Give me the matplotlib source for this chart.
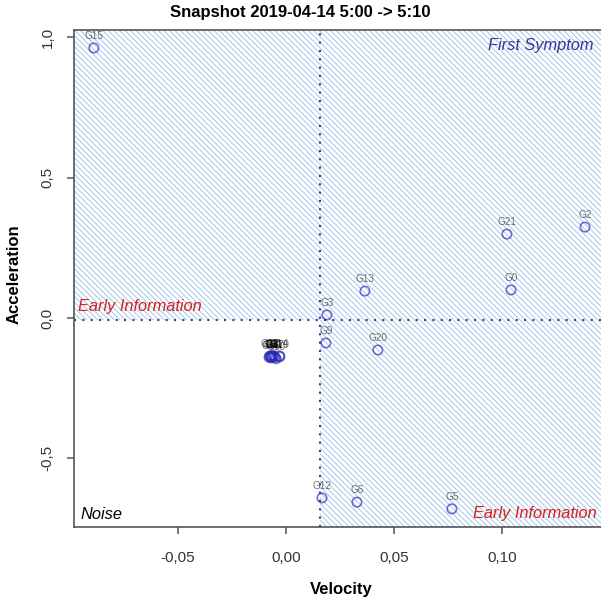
import matplotlib
matplotlib.use("Agg")
import matplotlib.pyplot as plt
from matplotlib.patches import Rectangle
from matplotlib.ticker import FuncFormatter

plt.rcParams['font.family'] = ['Liberation Sans', 'DejaVu Sans']
plt.rcParams['hatch.linewidth'] = 0.7

genes = ['G0', 'G1', 'G2', 'G3', 'G4', 'G5', 'G6', 'G7', 'G8', 'G9', 'G10',
         'G11', 'G12', 'G13', 'G14', 'G15', 'G16', 'G17', 'G18', 'G19', 'G20', 'G21']
velocity = [0.1043, -0.0070, 0.1386, 0.0190, -0.0065, 0.0769, 0.0329, -0.0060,
            -0.0078, 0.0185, -0.0045, -0.0055, 0.0167, 0.0366, -0.0030, -0.0890,
            -0.0068, -0.0050, -0.0075, -0.0028, 0.0426, 0.1024]
acceleration = [0.100, -0.135, 0.324, 0.011, -0.138, -0.680, -0.656, -0.133,
                -0.140, -0.089, -0.145, -0.137, -0.641, 0.096, -0.135, 0.962,
                -0.142, -0.140, -0.136, -0.138, -0.114, 0.299]

# thresholds (dotted lines)
v_thr = 0.0158
a_thr = -0.007

x_ticks = [-0.05, 0.0, 0.05, 0.10]
y_ticks = [-0.5, 0.0, 0.5, 1.0]

fig = plt.figure(figsize=(6.01, 6.03), dpi=100)
ax = fig.add_axes([74 / 601, 76 / 603, 527 / 601, 497 / 603])
ax.set_xlim(-0.0982, 0.1460)
ax.set_ylim(-0.7446, 1.026)

hatch_col = '#a4c6ea'
hatch = '\\' * 6
# hatched areas: everything above the acceleration threshold, and bottom right
ax.add_patch(Rectangle((-1, a_thr), 2, 3, facecolor='none', edgecolor=hatch_col,
                       hatch=hatch, linewidth=0, zorder=0))
ax.add_patch(Rectangle((v_thr, -3), 1, 3 + a_thr, facecolor='none', edgecolor=hatch_col,
                       hatch=hatch, linewidth=0, zorder=0))

ax.axvline(v_thr, color='#3535a8', linestyle=(0, (1, 3)), linewidth=1.5, zorder=1)
ax.axhline(a_thr, color='#3535a8', linestyle=(0, (1, 3)), linewidth=1.5, zorder=1)

ax.scatter(velocity, acceleration, s=46, facecolors='none', edgecolors='#2525b5',
           linewidths=1.2, alpha=0.65, zorder=3)
for name, vx, ay in zip(genes, velocity, acceleration):
    ax.annotate(name, (vx, ay), xytext=(0, 8.5), textcoords='offset points',
                ha='center', va='center', fontsize=7.2, color='black', alpha=0.55,
                zorder=4)

# quadrant captions
ax.text(0.985, 0.968, 'First Symptom', transform=ax.transAxes, ha='right', va='center',
        fontsize=11.8, style='italic', color='#3535a0')
ax.text(0.0076, 0.443, 'Early Information', transform=ax.transAxes, ha='left', va='center',
        fontsize=11.8, style='italic', color='#d42020')
ax.text(0.9924, 0.028, 'Early Information', transform=ax.transAxes, ha='right', va='center',
        fontsize=11.8, style='italic', color='#d42020')
ax.text(0.0114, 0.026, 'Noise', transform=ax.transAxes, ha='left', va='center',
        fontsize=11.8, style='italic', color='black')

comma = lambda fmt: FuncFormatter(lambda v, p: (fmt % v).replace('.', ','))
ax.set_xticks(x_ticks)
ax.set_yticks(y_ticks)
ax.xaxis.set_major_formatter(comma('%.2f'))
ax.yaxis.set_major_formatter(comma('%.1f'))
ax.tick_params(axis='both', length=5, width=1.1, color='#555555', labelsize=11,
               labelcolor='#333333')
ax.tick_params(axis='x', pad=12)
ax.tick_params(axis='y', pad=9)
for lbl in ax.get_yticklabels():
    lbl.set_rotation(90)
    lbl.set_va('center')

for side in ['left', 'bottom', 'top']:
    ax.spines[side].set_color('#555555')
    ax.spines[side].set_linewidth(1.2)
ax.spines['right'].set_visible(False)

ax.set_xlabel('Velocity', fontsize=12, fontweight='bold')
ax.set_ylabel('Acceleration', fontsize=12, fontweight='bold')
ax.xaxis.set_label_coords(0.508, -0.111)
ax.yaxis.set_label_coords(-0.100, 0.508)

fig.text(0.5, 1 - 12 / 603, 'Snapshot 2019-04-14 5:00 -> 5:10', ha='center', va='center',
         fontsize=12, fontweight='bold')

fig.savefig('out.png', dpi=100, facecolor='white')
